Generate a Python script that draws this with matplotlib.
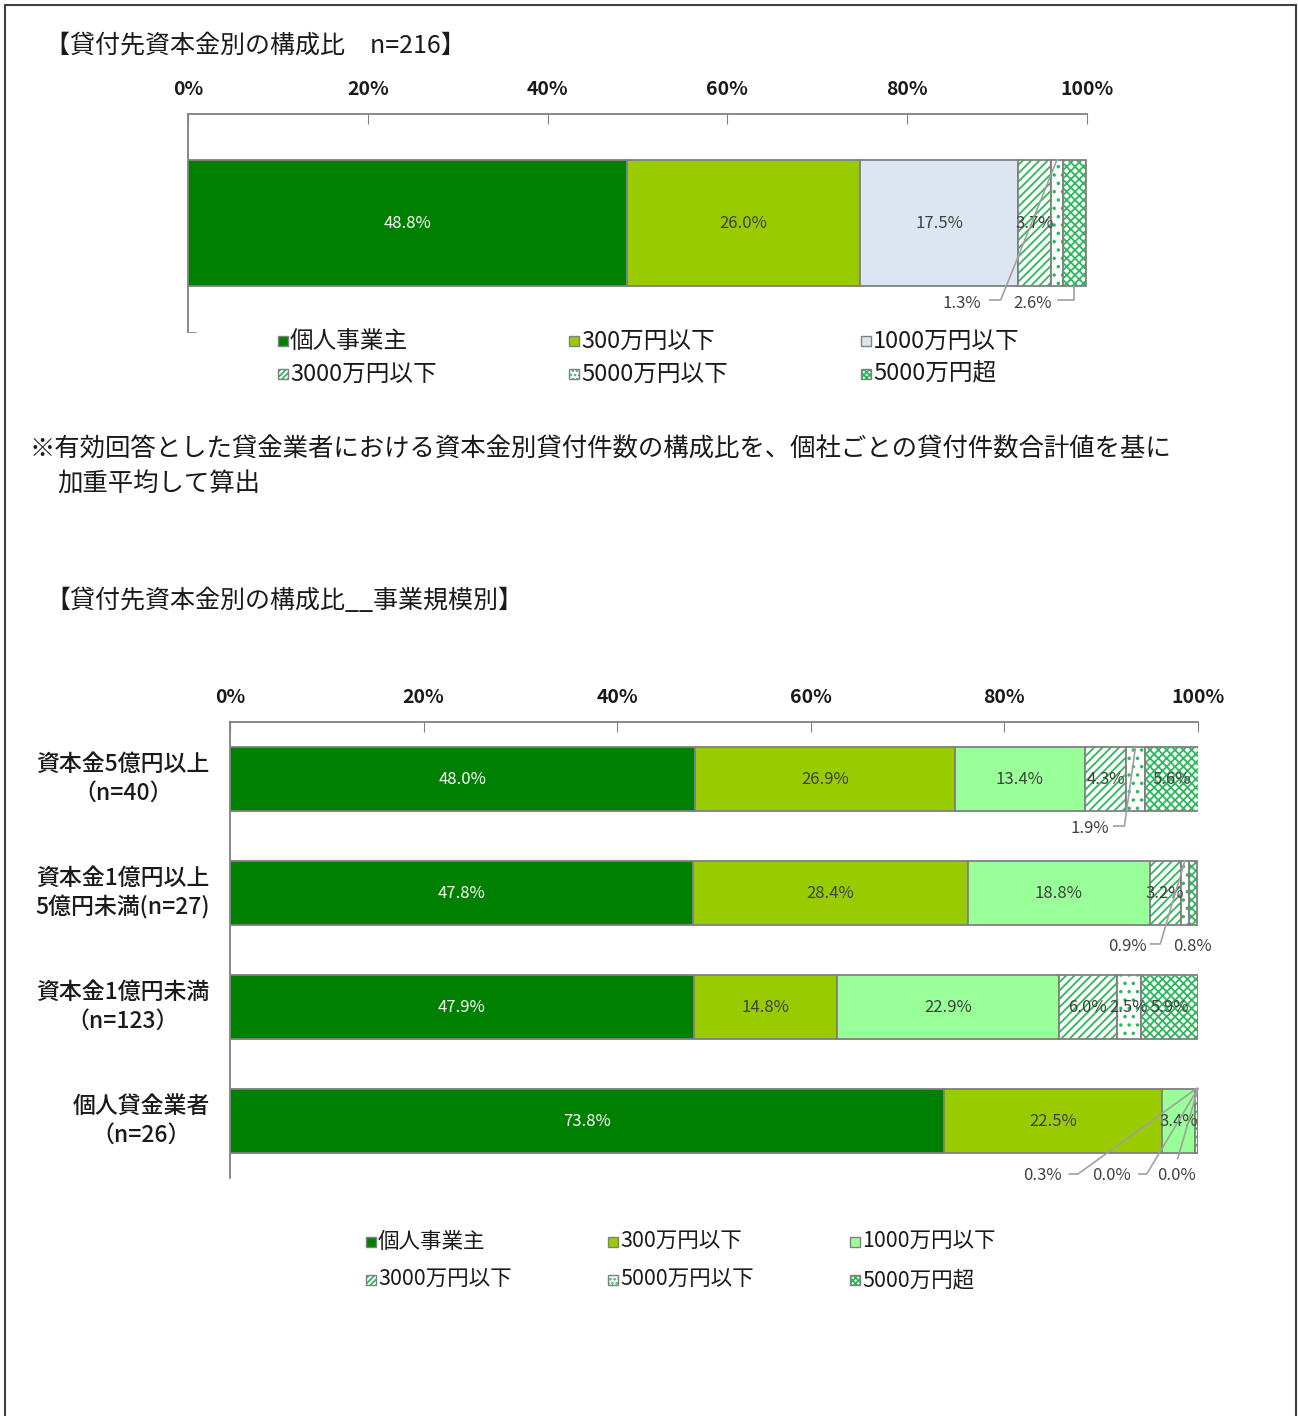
import numpy as np
import matplotlib
matplotlib.use("Agg")
import matplotlib.pyplot as plt
from matplotlib.patches import Rectangle

plt.rcParams["font.family"] = ["Noto Sans CJK JP", "DejaVu Sans"]
plt.rcParams["hatch.linewidth"] = 1.3

# ── Data ─────────────────────────────────────────────────────────────────────
SERIES = ["個人事業主", "300万円以下", "1000万円以下",
          "3000万円以下", "5000万円以下", "5000万円超"]

TOTAL_VALUES = [48.8, 26.0, 17.5, 3.7, 1.3, 2.6]

GROUPS = ["資本金5億円以上\n（n=40）",
          "資本金1億円以上\n5億円未満(n=27)",
          "資本金1億円未満\n（n=123）",
          "個人貸金業者\n（n=26）"]
GROUP_VALUES = [
    [48.0, 26.9, 13.4, 4.3, 1.9, 5.6],
    [47.8, 28.4, 18.8, 3.2, 0.9, 0.8],
    [47.9, 14.8, 22.9, 6.0, 2.5, 5.9],
    [73.8, 22.5, 3.4, 0.3, 0.0, 0.0],
]

X_TICKS = [0, 20, 40, 60, 80, 100]

TITLE_1 = "【貸付先資本金別の構成比　n=216】"
TITLE_2 = "【貸付先資本金別の構成比__事業規模別】"
NOTE_1 = "※有効回答とした貸金業者における資本金別貸付件数の構成比を、個社ごとの貸付件数合計値を基に"
NOTE_2 = "加重平均して算出"

# ── Styles ───────────────────────────────────────────────────────────────────
W, H = 1298, 1416
EDGE = "#808080"
HATCH_GREEN = "#2EB85C"
TXT = "#404040"
DARK = "#1A1A1A"
LEADER = "#A0A0A0"

# (facecolor, hatch) per series; 3rd colour differs between the two charts
STYLE_TOP = [("#008000", None), ("#99CC00", None), ("#DCE6F2", None),
             ("white", "////"), ("white", ".."), ("white", "xxxx")]
STYLE_BOT = [("#008000", None), ("#99CC00", None), ("#99FF99", None),
             ("white", "////"), ("white", ".."), ("white", "xxxx")]
LEGEND_HATCH = {"////": "//////", "..": "....", "xxxx": "xxxxxx"}

# labels drawn outside the bar: (row, series) -> (text x, text y, leader pts, side)
OUT_TOP = {
    (0, 4): (86.1, 0.367, [(89.2, 0.353), (90.4, 0.353)], "top"),
    (0, 5): (93.9, 0.367, [(96.8, 0.353), (None, 0.353)], "bottom"),
}
OUT_BOT = {
    (0, 4): (88.8, 0.43, [(91.3, 0.412), (92.4, 0.412)], "top"),
    (1, 4): (92.7, 1.465, [(95.1, 1.447), (96.1, 1.447)], "top"),
    (1, 5): (99.4, 1.465, [], None),
    (3, 3): (83.9, 3.48, [(86.7, 3.465), (87.6, 3.465)], "top"),
    (3, 4): (91.1, 3.48, [(93.9, 3.465), (94.7, 3.465)], "top"),
    (3, 5): (97.8, 3.48, [(97.9, 3.33)], "top"),
}


def fx(px):
    return px / W


def fy(py):
    return 1 - py / H


def make_axes(left, right, top, bottom):
    ax = fig.add_axes([fx(left), fy(bottom), fx(right - left), (bottom - top) / H])
    ax.set_xlim(0, 100)
    ax.xaxis.tick_top()
    ax.set_xticks(X_TICKS)
    ax.set_xticklabels([f"{t}%" for t in X_TICKS], fontsize=14,
                       fontweight="bold", color=DARK)
    ax.tick_params(axis="x", direction="in", length=7, color=EDGE, pad=11)
    ax.tick_params(axis="y", which="both", left=False, labelleft=False)
    for s in ["right", "bottom"]:
        ax.spines[s].set_visible(False)
    for s in ["top", "left"]:
        ax.spines[s].set_color(EDGE)
        ax.spines[s].set_linewidth(1.3)
    return ax


def draw_stack(ax, rows, styles, outside, height):
    for r, vals in enumerate(rows):
        lefts = np.concatenate([[0], np.cumsum(vals)[:-1]])
        for k, (v, l) in enumerate(zip(vals, lefts)):
            fc, hatch = styles[k]
            if hatch:
                ax.barh(r, v, left=l, height=height, color="white",
                        edgecolor=HATCH_GREEN, hatch=hatch, linewidth=0)
                ax.barh(r, v, left=l, height=height, facecolor="none",
                        edgecolor=EDGE, linewidth=1.3)
            else:
                ax.barh(r, v, left=l, height=height, color=fc,
                        edgecolor=EDGE, linewidth=1.3)
            cx = l + v / 2
            lab = f"{v:.1f}%"
            if (r, k) in outside:
                tx, ty, pts, side = outside[(r, k)]
                ax.text(tx, ty, lab, ha="center", va="center",
                        fontsize=12, color=TXT, clip_on=False)
                if side:
                    ybar = r - height / 2 if side == "top" else r + height / 2
                    xs = [p[0] if p[0] is not None else cx for p in pts] + [cx]
                    ys = [p[1] for p in pts] + [ybar]
                    ax.plot(xs, ys, color=LEADER, lw=1.2, clip_on=False, zorder=5)
            else:
                col = "white" if k == 0 else TXT
                ax.text(cx, r, lab, ha="center", va="center",
                        fontsize=12, color=col)


def draw_legend(xs, ys, styles, fs):
    for i, (name, (fc, hatch)) in enumerate(zip(SERIES, styles)):
        x = xs[i % 3]
        y = ys[i // 3]
        box = ((fx(x - 5), fy(y + 5)), fx(10), 10 / H)
        if hatch:
            fig.patches.append(Rectangle(*box, transform=fig.transFigure,
                                         facecolor="white",
                                         edgecolor=HATCH_GREEN,
                                         hatch=LEGEND_HATCH[hatch],
                                         linewidth=0))
            fig.patches.append(Rectangle(*box, transform=fig.transFigure,
                                         facecolor="none", edgecolor=EDGE,
                                         linewidth=1))
        else:
            fig.patches.append(Rectangle(*box, transform=fig.transFigure,
                                         facecolor=fc, edgecolor=EDGE,
                                         linewidth=1))
        fig.text(fx(x + 7), fy(y), name, ha="left", va="center",
                 fontsize=fs, color=DARK)


fig = plt.figure(figsize=(W / 100, H / 100), dpi=100)

# outer frame
fig.patches.append(Rectangle((fx(5), fy(1430)), fx(1291), 1425 / H,
                             transform=fig.transFigure, facecolor="none",
                             edgecolor="#404040", linewidth=1.5))

# ── Top chart ────────────────────────────────────────────────────────────────
fig.text(fx(45), fy(45), TITLE_1, ha="left", va="center", fontsize=18,
         color=DARK)
ax1 = make_axes(188, 1087, 114, 332)
ax1.set_ylim(0.5, -0.5)
ax1.set_yticks([0.5], minor=True)
ax1.tick_params(axis="y", which="minor", left=True, direction="in",
                length=6, color=EDGE)
draw_stack(ax1, [TOTAL_VALUES], STYLE_TOP, OUT_TOP, 0.578)
draw_legend([283, 574, 866], [341, 374], STYLE_TOP, 17)

fig.text(fx(30), fy(450), NOTE_1, ha="left", va="center", fontsize=18.3,
         color=DARK)
fig.text(fx(57), fy(485), NOTE_2, ha="left", va="center", fontsize=18.3,
         color=DARK)

# ── Bottom chart ─────────────────────────────────────────────────────────────
fig.text(fx(45), fy(601), TITLE_2, ha="left", va="center", fontsize=18,
         color=DARK)
ax2 = make_axes(230, 1198, 722, 1178)
ax2.set_ylim(len(GROUPS) - 0.5, -0.5)
ax2.set_yticks(np.arange(len(GROUPS)) + 0.5, minor=True)
ax2.tick_params(axis="y", which="minor", left=True, direction="in",
                length=6, color=EDGE)
draw_stack(ax2, GROUP_VALUES, STYLE_BOT, OUT_BOT, 0.57)
for i, g in enumerate(GROUPS):
    ax2.text(-2.1, i, g, ha="right", va="center", multialignment="center",
             fontsize=16.5, linespacing=1.3, color=DARK, fontweight="medium")
draw_legend([371, 613, 855], [1242, 1280], STYLE_BOT, 15.5)

fig.savefig("out.png", dpi=100)
